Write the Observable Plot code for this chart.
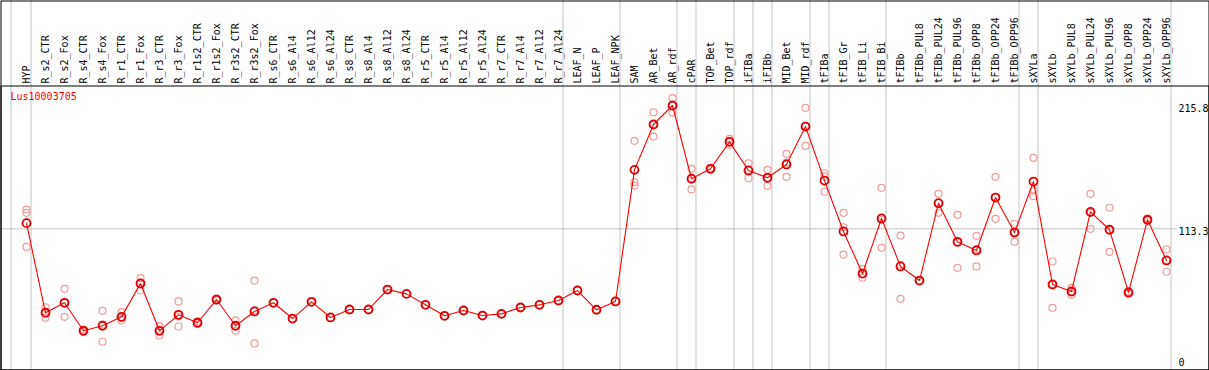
<!DOCTYPE html>
<html>
<head>
<meta charset="utf-8">
<script src="https://cdn.jsdelivr.net/npm/d3@7"></script>
<script src="https://cdn.jsdelivr.net/npm/@observablehq/plot@0.6"></script>
<style>
  html, body { margin: 0; padding: 0; background: #fff; }
  #chart svg { display: block; }
</style>
</head>
<body>
<div id="chart"></div>
<script>
const geneName = "Lus10003705";

const categories = [
  "HYP",
  "R_s2_CTR","R_s2_Fox","R_s4_CTR","R_s4_Fox","R_r1_CTR","R_r1_Fox","R_r3_CTR","R_r3_Fox",
  "R_r1s2_CTR","R_r1s2_Fox","R_r3s2_CTR","R_r3s2_Fox",
  "R_s6_CTR","R_s6_Al4","R_s6_Al12","R_s6_Al24",
  "R_s8_CTR","R_s8_Al4","R_s8_Al12","R_s8_Al24",
  "R_r5_CTR","R_r5_Al4","R_r5_Al12","R_r5_Al24",
  "R_r7_CTR","R_r7_Al4","R_r7_Al12","R_r7_Al24",
  "LEAF_N","LEAF_P","LEAF_NPK",
  "SAM","AR_Bet","AR_rdf","cPAR","TOP_Bet","TOP_rdf","iFIBa","iFIBb","MID_Bet","MID_rdf",
  "tFIBa","tFIB_Gr","tFIB_Li","tFIB_Bi",
  "tFIBb","tFIBb_PUL8","tFIBb_PUL24","tFIBb_PUL96","tFIBb_OPP8","tFIBb_OPP24","tFIBb_OPP96",
  "sXYLa",
  "sXYLb","sXYLb_PUL8","sXYLb_PUL24","sXYLb_PUL96","sXYLb_OPP8","sXYLb_OPP24","sXYLb_OPP96"
];

const means = [
  118.0,
  43.5, 51.8, 28.5, 32.7, 40.1, 67.8, 28.5, 41.8,
  35.2, 54.5, 32.7, 44.6,
  51.8, 38.7, 52.6, 39.6,
  46.2, 46.2, 62.8, 59.2,
  50.1, 41.0, 45.4, 41.2,
  42.6, 47.9, 50.1, 53.7,
  62.0, 46.0, 52.9,
  162.3, 200.0, 215.8, 154.9, 163.2, 185.6, 161.8, 155.7, 166.8, 198.3,
  153.4, 111.1, 76.1, 121.9,
  82.0, 70.3, 134.6, 102.5, 95.3, 139.3, 110.2,
  152.6,
  67.0, 61.2, 127.4, 112.5, 60.4, 120.8, 87.0
];

const replicates = [
  [129.3, 126.6, 98.2],
  [48.1, 43.5, 39.3], [63.4, 52.0, 40.1], [29.5, 28.5, 27.6], [45.1, 33.6, 19.4],
  [44.0, 39.2, 37.1], [72.3, 69.1, 62.0], [32.4, 28.5, 24.6], [52.9, 40.4, 32.1],
  [36.3, 35.2, 34.1], [55.5, 54.5, 53.5], [37.1, 32.5, 28.5], [70.3, 45.5, 18.0],
  [51.8], [38.7], [52.6], [39.6],
  [46.2], [46.2], [62.8], [59.2],
  [50.1], [41.0], [45.4], [41.2],
  [42.6], [47.9], [50.1], [53.7],
  [62.0], [46.0], [52.9],
  [186.4, 152.0, 149.3], [210.2, 200.0, 190.0], [221.9, 215.8, 209.7],
  [163.2, 155.5, 146.0], [164.0, 163.2, 162.4], [188.1, 185.6, 183.1],
  [167.8, 162.2, 155.4], [162.3, 155.8, 149.0], [175.6, 168.3, 156.5], [213.9, 198.7, 182.3],
  [159.5, 156.8, 144.1], [126.6, 114.6, 91.9], [80.0, 75.7, 72.6], [147.4, 120.8, 97.5],
  [107.7, 83.2, 55.1], [70.3], [142.4, 134.8, 126.6], [124.9, 101.7, 80.9],
  [107.5, 96.4, 82.0], [156.5, 139.8, 121.6], [117.5, 110.6, 102.5],
  [172.3, 145.1, 140.4],
  [86.1, 67.3, 47.6], [64.2, 61.0, 58.4], [142.4, 126.5, 113.3], [130.8, 112.5, 94.2],
  [61.6, 60.4, 59.2], [121.9, 120.8, 119.7], [96.1, 87.3, 77.6]
];

// last category of each sample group (a separator follows it)
const groupEnds = ["HYP","R_r7_Al24","LEAF_NPK","AR_rdf","cPAR","TOP_rdf","iFIBa","iFIBb",
  "MID_rdf","tFIBa","tFIB_Bi","tFIBb_OPP96","sXYLa","sXYLb_OPP96"];

const yTicks = [0, 113.3, 215.8];
const yTickLabels = ["0", "113.3", "215.8"];
const midLine = [113.3];

const meanRows = categories.map((c, i) => ({cat: c, v: means[i]}));
const repRows = categories.flatMap((c, i) => replicates[i].map(v => ({cat: c, v})));
const tickRows = yTicks.map((v, i) => ({v, label: yTickLabels[i]}));

const grid = "#c4c4c4";

const chart = Plot.plot({
  width: 1209,
  height: 370,
  marginTop: 85,
  marginBottom: 0,
  marginLeft: 0,
  marginRight: 0,
  style: {fontFamily: "'DejaVu Sans Mono', monospace", fontSize: "10px", background: "#fff", color: "#000"},
  x: {type: "point", domain: categories, range: [26, 1166], padding: 0, align: 0.5, axis: null},
  y: {domain: [0, 215.8], range: [364.6, 105], axis: null},
  marks: [
    // vertical group separators (through header)
    Plot.ruleX([categories[0]], {dx: -15.5, stroke: grid, insetTop: -85}),
    Plot.ruleX(groupEnds, {dx: 4.5, stroke: grid, insetTop: -85}),
    // middle reference line
    Plot.ruleY(midLine, {stroke: grid, insetLeft: 1, insetRight: 32}),
    // outer border and header separator
    Plot.frame({stroke: "#000", insetTop: -84.5, insetLeft: 0.5, insetRight: 0.5, insetBottom: 0.5}),
    Plot.frame({stroke: "#000", insetTop: 0.5, insetLeft: 0.5, insetRight: 0.5, insetBottom: 0.5}),
    // category labels in header
    Plot.text(categories, {x: d => d, frameAnchor: "top", rotate: -90, textAnchor: "start",
      lineAnchor: "bottom", dx: 3.5, dy: -2, fill: "#000"}),
    // gene name
    Plot.text([geneName], {frameAnchor: "top-left", textAnchor: "start", lineAnchor: "top",
      dx: 10, dy: 7, fill: "#ff0000"}),
    // right value labels
    Plot.text(tickRows.filter(d => d.v > 0), {y: "v", text: "label", frameAnchor: "right",
      textAnchor: "start", lineAnchor: "middle", dx: -31, dy: 3, fill: "#000"}),
    Plot.text(tickRows.filter(d => d.v === 0), {y: "v", text: "label", frameAnchor: "right",
      textAnchor: "start", lineAnchor: "bottom", dx: -31, dy: 1, fill: "#000"}),
    // replicates
    Plot.dot(repRows, {x: "cat", y: "v", r: 3.5, stroke: "#f09a9a", strokeWidth: 1.2, fill: "none"}),
    // mean line and markers
    Plot.line(meanRows, {x: "cat", y: "v", stroke: "#ff0000", strokeWidth: 1.1}),
    Plot.dot(meanRows, {x: "cat", y: "v", r: 4, stroke: "#e00000", strokeWidth: 1.8, fill: "none"})
  ]
});
document.getElementById("chart").append(chart);
</script>
</body>
</html>
